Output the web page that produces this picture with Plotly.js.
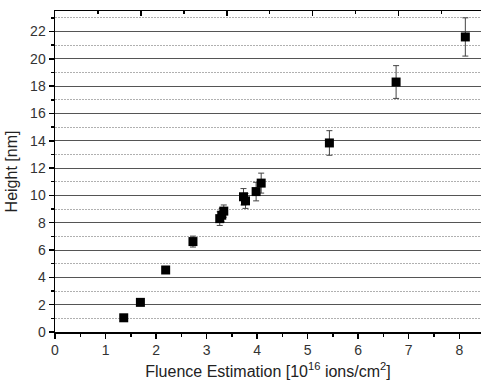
<!DOCTYPE html>
<html><head><meta charset="utf-8">
<script src="https://cdn.plot.ly/plotly-3.0.1.min.js"></script>
<style>html,body{margin:0;padding:0;background:#fff;overflow:hidden}</style>
</head><body><div id="chart" style="width:481px;height:385px"></div>
<script>
const fluence = [1.36, 1.69, 2.19, 2.73, 3.26, 3.30, 3.34, 3.73, 3.77, 3.98, 4.08, 5.43, 6.75, 8.12];
const height  = [1.04, 2.17, 4.54, 6.62, 8.30, 8.55, 8.85, 9.90, 9.60, 10.28, 10.90, 13.84, 18.30, 21.60];
const heightErr = [0.15, 0.15, 0.25, 0.40, 0.50, 0.50, 0.45, 0.60, 0.55, 0.68, 0.73, 0.90, 1.20, 1.40];
const xTitle = 'Fluence Estimation [10<sup>16</sup> ions/cm<sup>2</sup>]';
const yTitle = 'Height [nm]';

const data = [
  {
    x: fluence, y: height, type: 'scatter', mode: 'markers',
    marker: {symbol: 'square', size: 9, color: '#000'},
    error_y: {type: 'data', array: heightErr, visible: true, color: '#444', thickness: 1, width: 3},
    hoverinfo: 'x+y'
  },
  { x: [], y: [], xaxis: 'x2', yaxis: 'y', type: 'scatter', mode: 'markers', showlegend: false, hoverinfo: 'skip' }
];

const font = {family: 'Liberation Sans, Arial, sans-serif', color: '#222'};
const layout = {
  width: 481, height: 385,
  margin: {l: 55, r: 0, t: 11, b: 53},
  paper_bgcolor: '#fff', plot_bgcolor: '#fff',
  showlegend: false,
  font: font,
  xaxis: {
    range: [0, 8.43], dtick: 1, tick0: 0,
    showline: true, linecolor: '#000', linewidth: 1.5,
    ticks: 'outside', ticklen: 5, tickwidth: 1.5, tickcolor: '#000',
    minor: {dtick: 0.5, ticks: 'outside', ticklen: 3, tickcolor: '#000', showgrid: false},
    showgrid: false, zeroline: false,
    tickfont: {size: 14, color: '#333'},
    title: {text: xTitle, font: {size: 16, color: '#222'}, standoff: 8}
  },
  xaxis2: {
    overlaying: 'x', side: 'top', anchor: 'y',
    range: [0, 4.96], dtick: 1, tick0: 0,
    showline: true, linecolor: '#000', linewidth: 1.5,
    ticks: 'inside', ticklen: 5, tickwidth: 1.5, tickcolor: '#000',
    minor: {dtick: 0.5, ticks: 'inside', ticklen: 3, tickcolor: '#000', showgrid: false},
    showticklabels: false, showgrid: false, zeroline: false
  },
  yaxis: {
    range: [0, 23.5], dtick: 2, tick0: 0,
    showline: true, linecolor: '#000', linewidth: 1.5,
    ticks: 'outside', ticklen: 5, tickwidth: 1.5, tickcolor: '#000',
    showgrid: true, gridcolor: '#555', gridwidth: 1,
    minor: {dtick: 1, ticks: 'outside', ticklen: 3, tickcolor: '#000', showgrid: true, gridcolor: '#b0b0b0', griddash: '1.5px,1.5px', gridwidth: 1},
    zeroline: false,
    tickfont: {size: 14, color: '#333'},
    title: {text: yTitle, font: {size: 16, color: '#222'}, standoff: 8}
  }
};
Plotly.newPlot('chart', data, layout, {displayModeBar: false, staticPlot: true});
</script></body></html>
